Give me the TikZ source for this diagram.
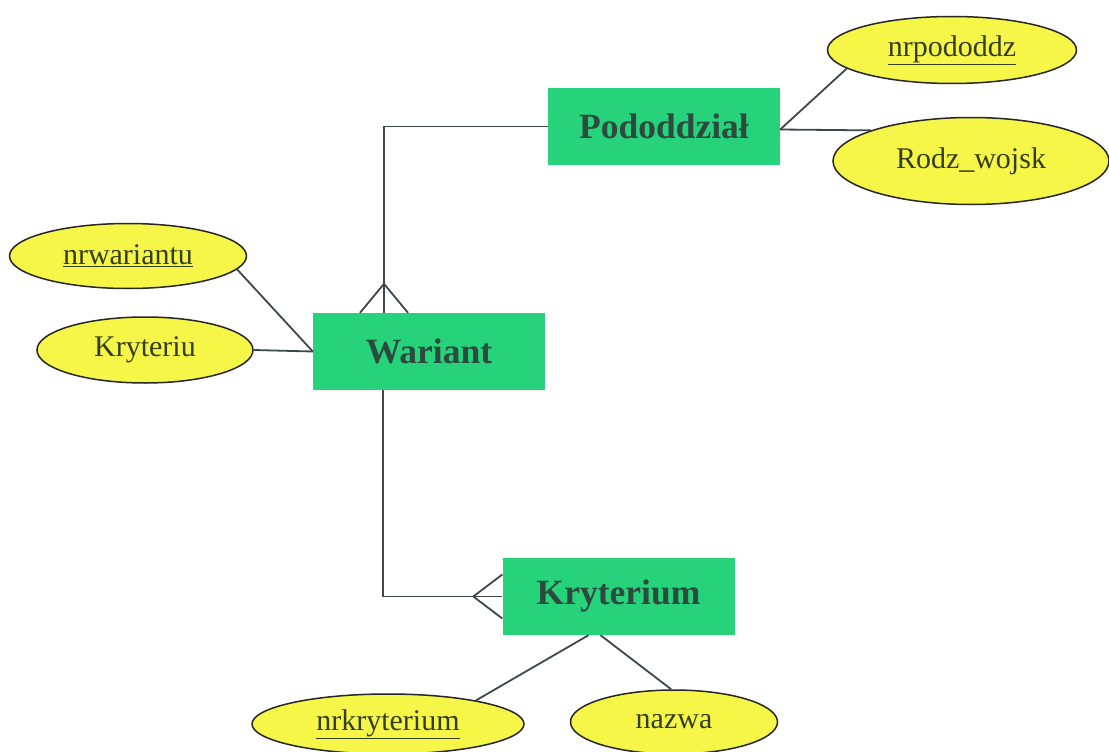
\documentclass[tikz,border=0pt]{standalone}
\usepackage{fontspec}
\setmainfont{Liberation Serif}
\usetikzlibrary{shapes.geometric}
\definecolor{entgreen}{RGB}{38,210,122}
\definecolor{entink}{RGB}{44,74,62}
\definecolor{attyellow}{RGB}{246,246,72}
\definecolor{attink}{RGB}{52,62,28}
\definecolor{linkgray}{RGB}{62,70,78}
\begin{document}
\begin{tikzpicture}[x=1pt,y=-1pt,
  entity/.style={rectangle, fill=entgreen, minimum width=232pt, minimum height=77pt,
    inner sep=0pt, text=entink, font=\fontsize{35.5}{38}\selectfont\bfseries},
  attr/.style={ellipse, draw=black!85, line width=1.5pt, fill=attyellow, inner sep=0pt,
    text=attink, font=\fontsize{30}{33}\selectfont},
  link/.style={draw=linkgray, line width=1.8pt}]
\path[use as bounding box, fill=white] (0,0) rectangle (1109,752);

% entities
\node[entity] (pod) at (664,126.5) {Pododdział};
\node[entity] (war) at (429,351.5) {Wariant};
\node[entity] (kt)  at (618.5,596.5) {Kryterium};

% attributes
\node[attr, minimum width=249pt, minimum height=67pt] (nrp) at (952,50) {\underline{nrpododdz}};
\node[attr, minimum width=276pt, minimum height=87pt] (rod) at (971,161) {Rodz\_wojsk};
\node[attr, minimum width=237pt, minimum height=65pt] (nrw) at (128,256) {\underline{nrwariantu}};
\node[attr, minimum width=216pt, minimum height=66pt] (kry) at (145,350) {Kryteriu};
\node[attr, minimum width=272pt, minimum height=60pt] (nrk) at (388,724) {\underline{nrkryterium}};
\node[attr, minimum width=207pt, minimum height=64pt] (naz) at (674,722) {nazwa};

% attribute links
\draw[link] ([yshift=-3pt]pod.east) -- (nrp.190);
\draw[link] ([yshift=-3pt]pod.east) -- (rod.163);
\draw[link] (nrw.353) -- (war.west);
\draw[link] (kry.east) -- (war.west);
\draw[link] ([xshift=-30pt]kt.south) -- (nrk.15);
\draw[link] ([xshift=-18pt]kt.south) -- (naz.95);

% relationship Wariant -- Pododdział with crow's foot at Wariant
\draw[link] ([xshift=-45pt]war.north) |- (pod.west);
\draw[link] ([xshift=-69pt]war.north) -- ([xshift=-45pt,yshift=29pt]war.north)
  -- ([xshift=-21pt]war.north);

% relationship Wariant -- Kryterium with crow's foot at Kryterium
\draw[link] ([xshift=-46pt]war.south) |- (kt.west);
\draw[link] ([yshift=22pt]kt.west) -- ([xshift=-29pt]kt.west) -- ([yshift=-22pt]kt.west);
\end{tikzpicture}
\end{document}
